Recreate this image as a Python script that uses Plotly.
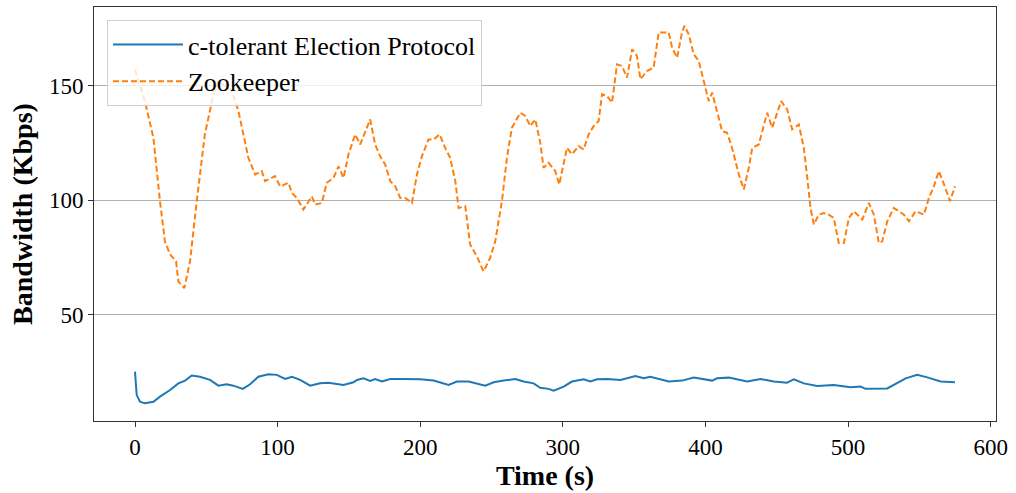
import plotly.graph_objects as go

# Zookeeper series (time s, bandwidth Kbps)
zk_t = [0, 7, 12.9, 17.5, 21, 24.6, 28.8, 30.4, 34.6, 38.6, 43.3, 49, 55, 58.5, 63, 67.8,
        72.5, 76, 79.5, 84.2, 88.9, 91.2, 98.2, 101.8, 107.6, 110, 113.5, 118.1, 124, 126.3,
        131, 134.5, 139.2, 142.7, 146.2, 149.7, 154.4, 157.9, 161.4, 164.9, 168.4, 171.9,
        175.4, 179, 182.5, 186, 189.5, 194.2, 197.7, 201.2, 205.8, 209.4, 213.6, 217.5, 221,
        224.6, 226.9, 231.6, 235, 239.8, 244.4, 249, 252.6, 257.3, 260.8, 264.3, 270.2, 273.7,
        277.2, 280.7, 284.2, 286.5, 290, 294.7, 297.5, 302.9, 306.4, 311.1, 314.6, 318.1,
        321.6, 325.1, 327.5, 331, 334.5, 338, 341.5, 345, 348.6, 352, 354.4, 359, 363.7,
        367.2, 370.7, 374.3, 376.6, 380.1, 383.6, 385.3, 388.3, 391.8, 395.3, 398.8, 402.3,
        404.7, 408.2, 411.7, 415.2, 418.7, 423.4, 426.9, 430.4, 432.8, 437.4, 440.9, 443.3,
        446.8, 450.3, 453.1, 457.3, 460.8, 465.5, 469, 471.4, 473.7, 476, 479.5, 483, 486.5,
        490, 493.5, 497.1, 500.6, 504.1, 510, 514.6, 518.1, 521.6, 524, 527.5, 532.1, 535.7,
        539.2, 542.7, 547.4, 553.2, 556.7, 560.2, 563.7, 567.3, 571.5, 575]
zk_v = [157, 143, 127.2, 99.6, 82, 76.4, 73.4, 64.6, 61.7, 73.4, 99.6, 128.8, 146, 152, 149.8, 148,
        138.9, 128.8, 118.5, 111.2, 112.7, 108.3, 110.5, 106, 107.6, 103.2, 101, 95.9, 101.7, 98.1,
        98.8, 107.6, 109.7, 114.8, 109.7, 120, 128.7, 124.3, 130.1, 135.2, 124.3, 119.2,
        115.6, 108.3, 106.1, 101, 101, 98.8, 111.2, 119.2, 126.5, 126.5, 128.7, 122.8, 118.5,
        108.3, 96.6, 97.4, 80.7, 75.5, 69, 74.8, 82.1, 99.6, 118.5, 131.6, 138.1, 136.7,
        132.3, 135.2, 125, 114.1, 116.3, 112.7, 106.9, 122.8, 120, 123.6, 122.1, 128.7,
        132.3, 134.5, 146.2, 145.4, 142.5, 159.2, 158.5, 153.4, 165.8, 162.9, 152.7, 156.3, 157.8,
        173.1, 173.1, 173.1, 166.5, 162.1, 173.1, 176, 172.3, 163.6, 160.7, 152, 143.2,
        146.9, 138.9, 130.1, 129.4, 122.8, 111.2, 104.7, 114.1, 122.8, 124.3, 133, 138.1,
        131.6, 138.1, 143.2, 139.6, 130.9, 133, 122.8, 109.7, 96.6, 89.4, 93.7, 94.4, 93.7,
        92.3, 81.4, 81.4, 92.3, 95.2, 91.6, 98.8, 93.7, 81.4, 82.1, 90.8, 96.6, 95.2,
        93.7, 90.8, 95.2, 93.7, 101, 106.1, 112.7, 106.9, 99.6, 106.1]

# c-tolerant Election Protocol series
ct_t = [0, 1.2, 3.5, 7, 12.9, 17.5, 24.6, 30.4, 35.1, 39.8, 45.6, 52.6, 58.5, 64.3, 69, 75.6,
        80.7, 86.5, 93.5, 99.4, 105.3, 110, 115.8, 122.8, 129.8, 135.6, 146.2, 153.2, 155.6,
        160.2, 164.9, 168.4, 173.1, 179, 188.3, 200, 209.4, 219.9, 225.7, 233.9, 245.6, 251.5,
        258.5, 266.7, 272.5, 279.5, 284.2, 290, 293.6, 300.6, 306.4, 314.6, 319.3, 324, 331,
        340.4, 350.9, 356.7, 361.4, 374.3, 383.6, 391.8, 404.7, 408.2, 416.4, 429.3, 438.6,
        448, 457.3, 462, 469, 478.4, 490, 501.8, 508.8, 512.3, 527.5, 532.1, 540.4, 548.5,
        555.6, 564.9, 575]
ct_v = [25.3, 15.1, 12.2, 11.5, 12.2, 14.4, 17.3, 20.2, 21.4, 23.6, 23.1, 21.7, 19.2, 19.8, 19.2, 17.8,
        19.8, 23.1, 24.2, 23.9, 22.1, 23.1, 21.7, 19.2, 20.2, 20.5, 19.5, 20.7, 21.7,
        22.4, 21.3, 22.1, 21, 22.1, 22.1, 22, 21.4, 19.5, 21, 21, 19.2, 20.7,
        21.4, 22.1, 21, 20.2, 18.3, 17.8, 17, 18.8, 21, 22, 21, 22, 22.1,
        21.7, 23.4, 22.4, 23.1, 21, 21.4, 22.7, 21.4, 22.4, 22.7, 21, 22.1,
        21, 20.5, 22, 20.2, 19.1, 19.5, 18.5, 18.8, 17.8, 18, 19.5, 22.4, 23.9,
        22.8, 21, 20.7]

x_ticks = [0, 100, 200, 300, 400, 500, 600]
y_ticks = [50, 100, 150]

FONT = "Liberation Serif, Times New Roman, serif"

fig = go.Figure()
fig.add_trace(go.Scatter(x=ct_t, y=ct_v, mode="lines", name="c-tolerant Election Protocol",
                         line=dict(color="#1f77b4", width=2)))
fig.add_trace(go.Scatter(x=zk_t, y=zk_v, mode="lines", name="Zookeeper",
                         line=dict(color="#ff7f0e", width=2, dash="6px,3px")))

axis_common = dict(showline=True, linecolor="#333333", linewidth=1, mirror=True,
                   ticks="outside", ticklen=5, tickcolor="#333333", zeroline=False,
                   tickfont=dict(family=FONT, size=23, color="black"))

fig.update_xaxes(range=[-28.75, 603.75], tickvals=x_ticks, showgrid=False,
                 title=dict(text="<b>Time (s)</b>", font=dict(family=FONT, size=28, color="black"),
                            standoff=4),
                 **axis_common)
fig.update_yaxes(range=[3.8, 184.2], tickvals=y_ticks, showgrid=True, gridcolor="#b0b0b0",
                 gridwidth=1,
                 title=dict(text="<b>Bandwidth (Kbps)</b>", font=dict(family=FONT, size=28, color="black"),
                            standoff=8),
                 **axis_common)

fig.update_layout(
    width=1016, height=493,
    margin=dict(l=94, r=20, t=7, b=72),
    paper_bgcolor="white", plot_bgcolor="white",
    font=dict(family=FONT, color="black"),
    showlegend=True,
    legend=dict(x=0.0144, y=0.9686, xanchor="left", yanchor="top",
                bgcolor="rgba(255,255,255,0.8)", bordercolor="#d0d0d0", borderwidth=1,
                itemwidth=70,
                font=dict(family=FONT, size=26, color="black"), tracegroupgap=0),
)

fig.write_html("out.html")
